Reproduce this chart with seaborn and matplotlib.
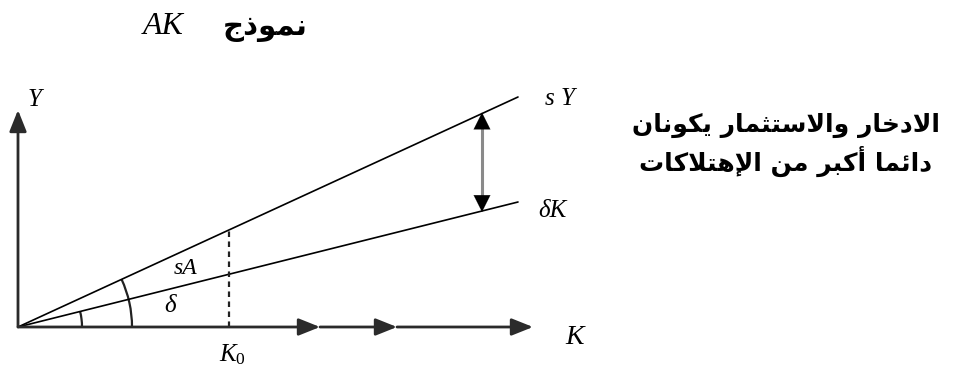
import matplotlib
matplotlib.use("Agg")
import matplotlib.pyplot as plt
from matplotlib.patches import Arc
import numpy as np
import seaborn as sns

# --- data (diagram units: origin at 0,0; 1 unit ~ 1 px) ---
k_line = [0, 500]          # K range of both lines
sy_line = [0, 230]         # saving / investment line sY = sAK
dk_line = [0, 125]         # depreciation line deltaK
k0 = 211                   # K_0 marker
k_arrow_tips = [302, 379, 515]   # arrowheads along the K axis
y_axis_top = 217
gap_k = 464                # where the double arrow sits
arc_small_r = 64
arc_big_r = 114

title_latin = "AK"
title_arabic = "نموذج"
note_lines = ["الادخار والاستثمار يكونان", "دائما أكبر من الإهتلاكات"]

# --- minimal Arabic shaping (presentation forms) so matplotlib shows joined letters ---
FORMS = {
    "ا": (0xFE8D, 0xFE8E), "أ": (0xFE83, 0xFE84), "إ": (0xFE87, 0xFE88),
    "د": (0xFEA9, 0xFEAA), "ذ": (0xFEAB, 0xFEAC), "ر": (0xFEAD, 0xFEAE),
    "و": (0xFEED, 0xFEEE),
    "ب": (0xFE8F, 0xFE90, 0xFE91, 0xFE92), "ت": (0xFE95, 0xFE96, 0xFE97, 0xFE98),
    "ث": (0xFE99, 0xFE9A, 0xFE9B, 0xFE9C), "ج": (0xFE9D, 0xFE9E, 0xFE9F, 0xFEA0),
    "خ": (0xFEA5, 0xFEA6, 0xFEA7, 0xFEA8), "س": (0xFEB1, 0xFEB2, 0xFEB3, 0xFEB4),
    "ك": (0xFED9, 0xFEDA, 0xFEDB, 0xFEDC), "ل": (0xFEDD, 0xFEDE, 0xFEDF, 0xFEE0),
    "م": (0xFEE1, 0xFEE2, 0xFEE3, 0xFEE4), "ن": (0xFEE5, 0xFEE6, 0xFEE7, 0xFEE8),
    "ه": (0xFEE9, 0xFEEA, 0xFEEB, 0xFEEC), "ي": (0xFEF1, 0xFEF2, 0xFEF3, 0xFEF4),
    "ئ": (0xFE89, 0xFE8A, 0xFE8B, 0xFE8C),
}
LAM_ALEF = {"ا": (0xFEFB, 0xFEFC), "أ": (0xFEF7, 0xFEF8), "إ": (0xFEF9, 0xFEFA)}
DUAL = {c for c, f in FORMS.items() if len(f) == 4}


def shape(text):
    tokens, i = [], 0
    while i < len(text):
        if text[i] == "ل" and i + 1 < len(text) and text[i + 1] in LAM_ALEF:
            tokens.append(("LA", text[i + 1]))
            i += 2
        else:
            tokens.append(text[i])
            i += 1
    out = []
    for n, t in enumerate(tokens):
        prev = tokens[n - 1] if n > 0 else None
        nxt = tokens[n + 1] if n + 1 < len(tokens) else None
        jp = isinstance(prev, str) and prev in DUAL
        if isinstance(t, tuple):
            out.append(chr(LAM_ALEF[t[1]][1 if jp else 0]))
        elif t in FORMS:
            f = FORMS[t]
            jn = t in DUAL and nxt is not None and (isinstance(nxt, tuple) or nxt in FORMS)
            if len(f) == 2:
                out.append(chr(f[1 if jp else 0]))
            else:
                out.append(chr(f[{(0, 0): 0, (1, 0): 1, (0, 1): 2, (1, 1): 3}[(int(jp), int(jn))]]))
        else:
            out.append(t)
    return "".join(out)[::-1]


sns.set_theme(style="white")
plt.rcParams["font.family"] = ["DejaVu Sans"]
plt.rcParams["mathtext.fontset"] = "custom"
plt.rcParams["mathtext.it"] = "Liberation Serif:italic"
plt.rcParams["mathtext.rm"] = "Liberation Serif"

fig = plt.figure(figsize=(9.54, 3.69), dpi=100)
ax = fig.add_axes([0, 0, 1, 1])
ax.set_xlim(-18, 936)
ax.set_ylim(-42, 327)
ax.axis("off")

axis_col = "#2b2b2b"
head = "-|>,head_length=0.65,head_width=0.26"

# Y axis
ax.annotate("", xy=(0, y_axis_top), xytext=(0, 0),
            arrowprops=dict(arrowstyle=head, mutation_scale=20, color=axis_col,
                            lw=2.0, shrinkA=0, shrinkB=0))
# K axis with several arrowheads
start = 0
for tip in k_arrow_tips:
    ax.annotate("", xy=(tip, 0), xytext=(start, 0),
                arrowprops=dict(arrowstyle=head, mutation_scale=20, color=axis_col,
                                lw=2.0, shrinkA=0, shrinkB=0))
    start = tip

# the two rays
sns.lineplot(x=k_line, y=sy_line, ax=ax, color="black", lw=1.2)
sns.lineplot(x=k_line, y=dk_line, ax=ax, color="black", lw=1.2)

slope_s = sy_line[1] / k_line[1]
slope_d = dk_line[1] / k_line[1]

# dashed K0 line
ax.plot([k0, k0], [0, slope_s * k0], color="#222222", lw=1.6, ls=(0, (2.5, 2)))

# double arrow between lines
top_y = slope_s * gap_k
bot_y = slope_d * gap_k
ax.plot([gap_k, gap_k], [bot_y + 8, top_y - 8], color="#8a8a8a", lw=2.2)
ax.annotate("", xy=(gap_k, top_y + 1), xytext=(gap_k, top_y - 10),
            arrowprops=dict(arrowstyle="-|>,head_length=0.6,head_width=0.3",
                            mutation_scale=20, color="black", lw=0.1, shrinkA=0, shrinkB=0))
ax.annotate("", xy=(gap_k, bot_y - 1), xytext=(gap_k, bot_y + 10),
            arrowprops=dict(arrowstyle="-|>,head_length=0.6,head_width=0.3",
                            mutation_scale=20, color="black", lw=0.1, shrinkA=0, shrinkB=0))

# angle arcs
ang_s = np.degrees(np.arctan(slope_s))
ang_d = np.degrees(np.arctan(slope_d))
ax.add_patch(Arc((0, 0), 2 * arc_small_r, 2 * arc_small_r, theta1=0, theta2=ang_d,
                 color="#222222", lw=1.6))
ax.add_patch(Arc((0, 0), 2 * arc_big_r, 2 * arc_big_r, theta1=0, theta2=ang_s,
                 color="#222222", lw=1.6))

# math-style labels
lab = dict(family="Liberation Serif", style="italic", color="black",
           ha="center", va="center")
ax.text(17, 227, "Y", fontsize=18, **lab)
ax.text(557, -10, "K", fontsize=20, **lab)
ax.text(542, 228, "s Y", fontsize=18, **lab)
ax.text(534, 116, "δK", fontsize=18, **lab)
ax.text(168, 58, "sA", fontsize=17, **lab)
ax.text(152, 21, "δ", fontsize=18, **lab)
ax.text(215, -28, r"$K_{\mathrm{0}}$", fontsize=18, color="black",
        ha="center", va="center")

# title
ax.text(145, 300, title_latin, fontsize=23, **lab)
ax.text(247, 299, shape(title_arabic), fontsize=21, fontweight="bold",
        family=["DejaVu Sans"], color="black", ha="center", va="center")

# note on the right
for n, line in enumerate(note_lines):
    ax.text(768, 202 - n * 36, shape(line), fontsize=18, fontweight="bold",
            family=["DejaVu Sans"], color="black", ha="center", va="center")

fig.savefig("out.png", dpi=100)
